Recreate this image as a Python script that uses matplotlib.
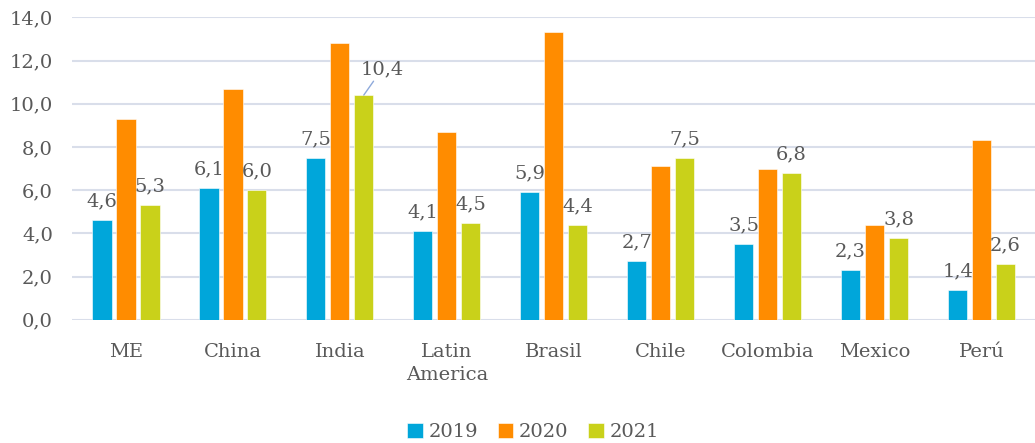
import numpy as np
import matplotlib
matplotlib.use("Agg")
import matplotlib.pyplot as plt

CATEGORIES = ["ME", "China", "India", "Latin\nAmerica", "Brasil", "Chile", "Colombia", "Mexico", "Perú"]
YEARS = ["2019", "2020", "2021"]
V2019 = [4.6, 6.1, 7.5, 4.1, 5.9, 2.7, 3.5, 2.3, 1.4]
V2020 = [9.3, 10.7, 12.8, 8.7, 13.3, 7.1, 7.0, 4.4, 8.3]
V2021 = [5.3, 6.0, 10.4, 4.5, 4.4, 7.5, 6.8, 3.8, 2.6]
LABELLED = [True, False, True]  # 2020 has no data labels

COLORS = ["#00A6DA", "#FF8C00", "#C9D11A"]
TXT = "#595959"
FS = 14
plt.rcParams["font.family"] = ["DejaVu Serif"]


def fmt(v):
    return f"{v:.1f}".replace(".", ",")


fig = plt.figure(figsize=(10.35, 4.43), dpi=100)
ax = fig.add_axes([0.070, 0.278, 0.93, 0.683])

x = np.arange(len(CATEGORIES))
w, step = 0.18, 0.224
series = [V2019, V2020, V2021]
for i, (vals, yr) in enumerate(zip(series, YEARS)):
    pos = x + (i - 1) * step
    ax.bar(pos, vals, w, color=COLORS[i], label=yr, zorder=3,
           edgecolor="white", linewidth=0.4)
    if not LABELLED[i]:
        continue
    for px, v, cat in zip(pos, vals, CATEGORIES):
        if cat == "India" and yr == "2021":
            # label pulled out with a leader line
            ax.annotate(fmt(v), (px, v), xytext=(13, 12), textcoords="offset points",
                        ha="center", va="bottom", fontsize=FS, color=TXT,
                        arrowprops=dict(arrowstyle="-", color="#8EA9DB", lw=1,
                                        shrinkA=0, shrinkB=0))
        else:
            ax.annotate(fmt(v), (px, v), xytext=(0, 7), textcoords="offset points",
                        ha="center", va="bottom", fontsize=FS, color=TXT)

ax.set_xlim(-0.5, len(CATEGORIES) - 0.5)
ax.set_ylim(0, 14)
ax.set_yticks(np.arange(0, 15, 2))
ax.set_yticklabels([fmt(t) for t in np.arange(0, 15, 2)])
ax.set_xticks(x)
ax.set_xticklabels(CATEGORIES, linespacing=1.3)
ax.tick_params(axis="both", length=0, labelsize=FS, labelcolor=TXT)
ax.tick_params(axis="x", pad=17)
ax.tick_params(axis="y", pad=14)
ax.yaxis.grid(True, color="#D9DEEA", lw=1.5, zorder=0)
for s in ax.spines.values():
    s.set_visible(False)

fig.legend(loc="lower center", bbox_to_anchor=(0.515, -0.035), ncol=3, frameon=False,
           fontsize=FS, handlelength=0.8, handleheight=0.8, handletextpad=0.3,
           columnspacing=1.0, labelcolor=TXT)

fig.savefig("out.png", dpi=100)
